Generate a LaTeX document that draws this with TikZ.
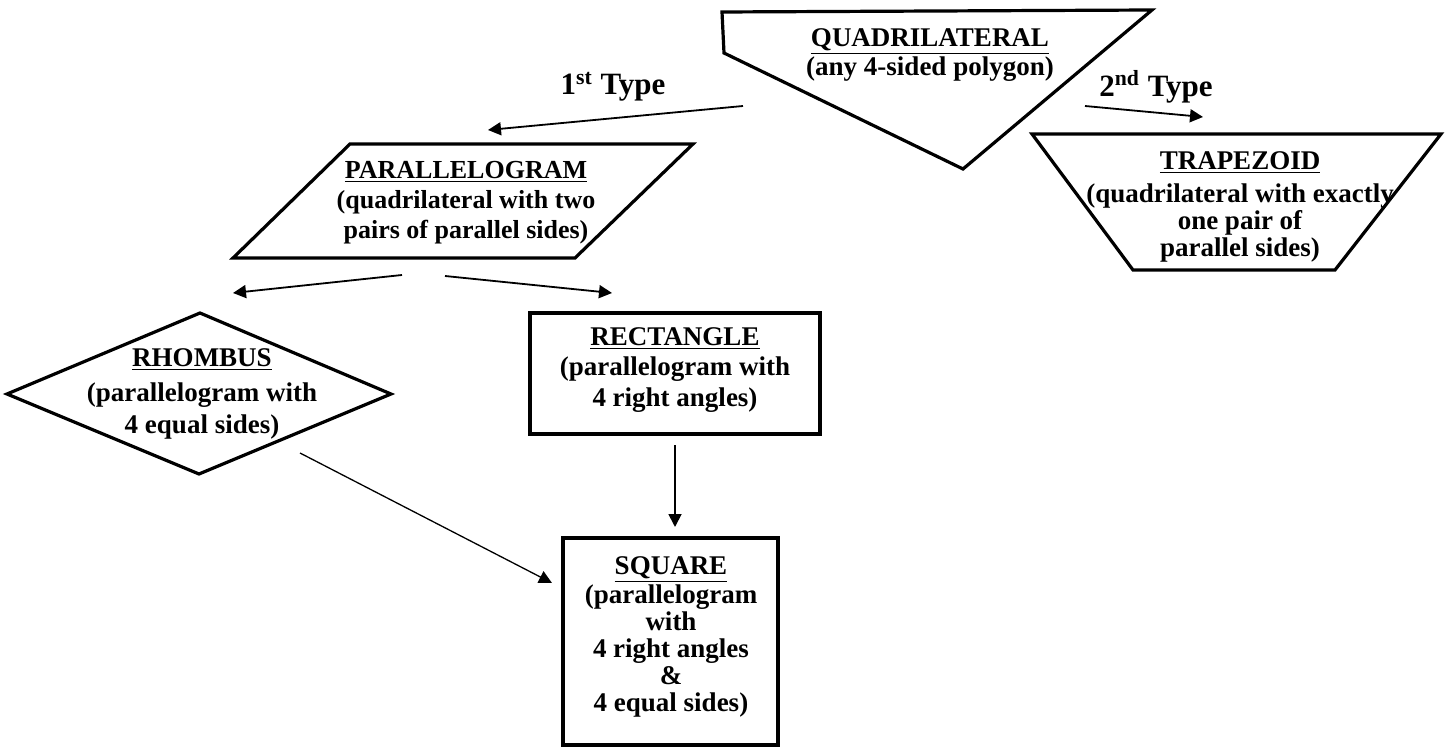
\documentclass[tikz,border=0pt]{standalone}
\usepackage{fontspec}
\setmainfont{Liberation Serif}
\usetikzlibrary{arrows.meta}
\tikzset{
  shapeline/.style={draw=black, line width=1.6pt, line join=miter},
  conn/.style={draw=black, line width=0.9pt, -{Triangle[length=6.5pt,width=6.5pt]}},
  thinconn/.style={conn, line width=0.65pt},
  lbl/.style={align=center, inner sep=0pt, font=\bfseries\fontsize{13.5}{14.5}\selectfont},
  typelbl/.style={inner sep=0pt, font=\bfseries\fontsize{15.5}{18}\selectfont},
}
\begin{document}
\begin{tikzpicture}[x=0.5pt,y=-0.5pt]
\useasboundingbox (0,0) rectangle (1445,748);

% shapes
\draw[shapeline] (722,12) -- (1152,10) -- (963,169) -- (724,53) -- cycle;
\draw[shapeline] (1032,134) -- (1441,134) -- (1335,270) -- (1133,270) -- cycle;
\draw[shapeline] (350,144) -- (693,144) -- (575,258) -- (233,258) -- cycle;
\draw[shapeline] (200,313) -- (391,394) -- (199,474) -- (7,394) -- cycle;
\draw[shapeline] (530,313) rectangle (820,434);
\draw[shapeline] (563,538) rectangle (778,745);

% texts
\node[lbl] (quad) at (930,55) {\underline{QUADRILATERAL}\\(any 4-sided polygon)};
\node[lbl, font=\bfseries\fontsize{13.5}{13.5}\selectfont] (trap) at (1240,207) {\underline{TRAPEZOID}\\[3pt](quadrilateral with exactly\\one pair of\\parallel sides)};
\node[lbl, font=\bfseries\fontsize{13}{15}\selectfont] (para) at (466,203) {\underline{PARALLELOGRAM}\\(quadrilateral with two\\pairs of parallel sides)};
\node[lbl, font=\bfseries\fontsize{13.5}{16}\selectfont] (rhom) at (202,394) {\underline{RHOMBUS}\\[1.5pt](parallelogram with\\4 equal sides)};
\node[lbl, font=\bfseries\fontsize{13.5}{15.25}\selectfont] (rect) at (675,370) {\underline{RECTANGLE}\\(parallelogram with\\4 right angles)};
\node[lbl, font=\bfseries\fontsize{13.5}{13.5}\selectfont] (squa) at (671,637) {\underline{SQUARE}\\(parallelogram\\with\\4 right angles\\\&\\4 equal sides)};

\node[typelbl] (t1) at (613,87) {1\textsuperscript{st} Type};
\node[typelbl] (t2) at (1156,87) {2\textsuperscript{nd} Type};

% connector end points
\coordinate (t1s) at (743,106);
\coordinate (t1e) at (488,130);
\coordinate (t2s) at (1085,106);
\coordinate (t2e) at (1203,117);
\coordinate (pls) at (402,275);
\coordinate (ple) at (233,293);
\coordinate (prs) at (445,276);
\coordinate (pre) at (612,293);
\coordinate (rcs) at (675,445);
\coordinate (rce) at (675,527);
\coordinate (rhs) at (300,453);
\coordinate (rhe) at (552,583);

\draw[conn] (t1s) -- (t1e);
\draw[conn] (t2s) -- (t2e);
\draw[conn] (pls) -- (ple);
\draw[conn] (prs) -- (pre);
\draw[conn] (rcs) -- (rce);
\draw[thinconn] (rhs) -- (rhe);
\end{tikzpicture}
\end{document}
